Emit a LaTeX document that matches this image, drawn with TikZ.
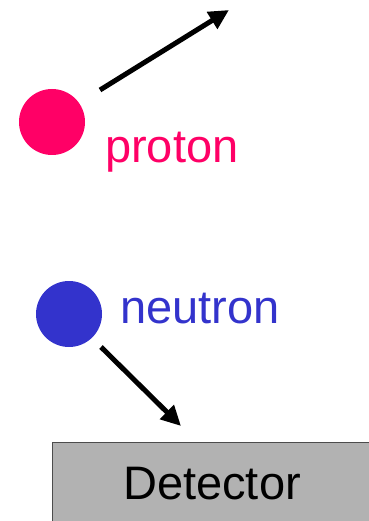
\documentclass[tikz,border=0pt]{standalone}
\usepackage{fontspec}
\setmainfont{Liberation Sans}
\usetikzlibrary{arrows.meta}
\definecolor{protoncol}{RGB}{255,0,102}
\definecolor{neutroncol}{RGB}{51,51,204}
\definecolor{detgray}{RGB}{178,178,178}
\tikzset{
  particle/.style={circle,inner sep=0pt,minimum size=66pt},
  label/.style={inner sep=0pt,anchor=base west,font=\fontsize{47}{56}\selectfont},
  track/.style={line width=5pt,-{Triangle[length=20pt,width=19pt]}}
}
\begin{document}
\begin{tikzpicture}[x=1pt,y=-1pt]
\useasboundingbox (0,0) rectangle (368,521);
\node[particle,fill=protoncol] (P) at (52,122) {};
\node[particle,fill=neutroncol] (N) at (69,314) {};
\node[label,text=protoncol] (Plab) at (105,163) {proton};
\node[label,text=neutroncol] (Nlab) at (120,323) {neutron};
\coordinate (P1) at (100,90); \coordinate (P2) at (229,10);
\coordinate (N1) at (101,347); \coordinate (N2) at (181,426);
\draw[track] (P1)--(P2);
\draw[track] (N1)--(N2);
\draw[fill=detgray,draw=black!70,line width=1pt] (52,442) rectangle (375,530);
\node[label,anchor=base] (D) at (212,499) {Detector};
\end{tikzpicture}
\end{document}
